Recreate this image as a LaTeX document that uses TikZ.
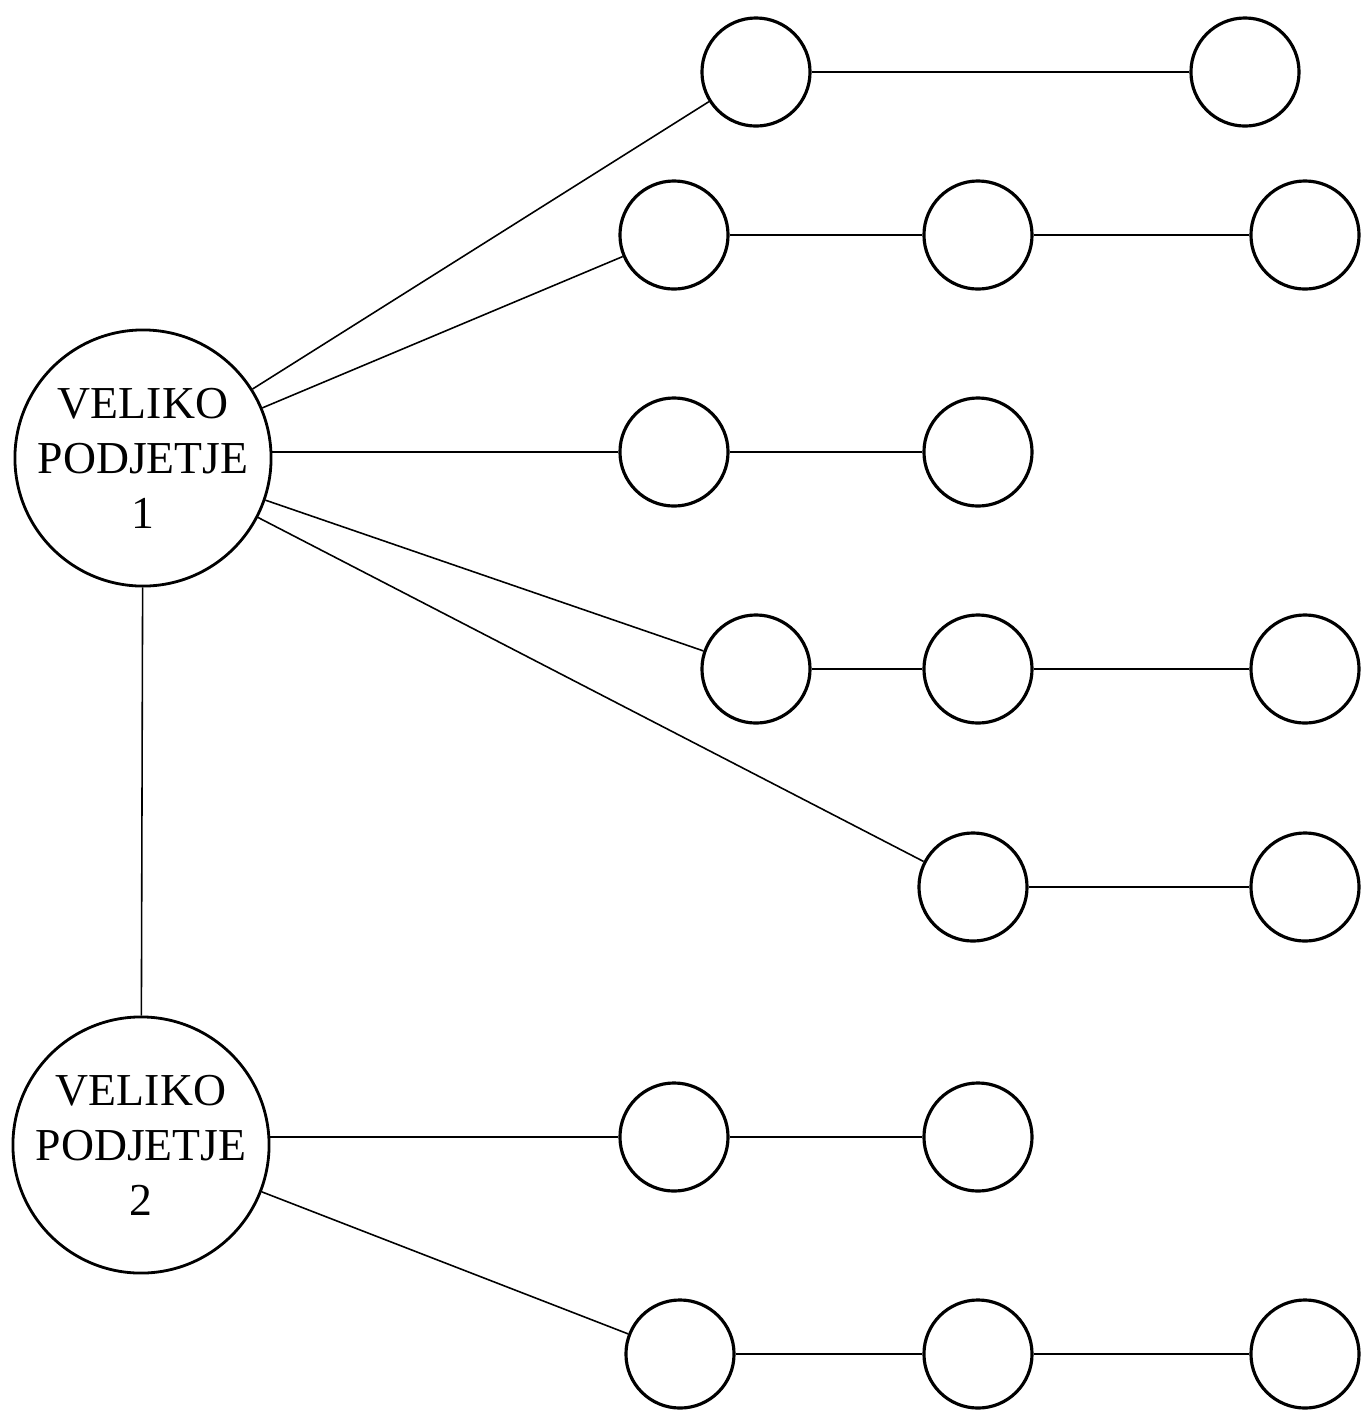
\documentclass[tikz,border=0pt]{standalone}
\usepackage{fontspec}
\setmainfont{Liberation Serif}
\begin{document}
\begin{tikzpicture}[x=0.01cm,y=-0.01cm,
  big/.style={circle,draw,line width=0.8pt,minimum size=2.56cm,inner sep=0pt,align=center,font=\fontsize{13}{15.6}\selectfont},
  small/.style={circle,draw,line width=0.9pt,minimum size=1.08cm,inner sep=0pt},
  link/.style={line width=0.45pt}]
\useasboundingbox (0,0) rectangle (1364,1411);
\node[big] (vp1) at (143,458) {VELIKO\\PODJETJE\\1};
\node[big] (vp2) at (141,1145) {VELIKO\\PODJETJE\\2};
% row 1
\node[small] (a1) at (756,72) {};
\node[small] (a2) at (1245,72) {};
% row 2
\node[small] (b1) at (674,235) {};
\node[small] (b2) at (978,235) {};
\node[small] (b3) at (1305,235) {};
% row 3
\node[small] (c1) at (674,452) {};
\node[small] (c2) at (978,452) {};
% row 4
\node[small] (d1) at (756,669) {};
\node[small] (d2) at (978,669) {};
\node[small] (d3) at (1305,669) {};
% row 5
\node[small] (e1) at (973,887) {};
\node[small] (e2) at (1305,887) {};
% row 6
\node[small] (f1) at (674,1137) {};
\node[small] (f2) at (978,1137) {};
% row 7
\node[small] (g1) at (680,1354) {};
\node[small] (g2) at (978,1354) {};
\node[small] (g3) at (1305,1354) {};
% connectors
\draw[link] (vp1) -- (a1);
\draw[link] (vp1) -- (b1);
\draw[link] (vp1.east |- c1) -- (c1);
\draw[link] (vp1) -- (d1);
\draw[link] (vp1) -- (e1);
\draw[link] (vp1) -- (vp2);
\draw[link] (vp2.east |- f1) -- (f1);
\draw[link] (vp2) -- (g1);
\draw[link] (a1) -- (a2);
\draw[link] (b1) -- (b2);
\draw[link] (b2) -- (b3);
\draw[link] (c1) -- (c2);
\draw[link] (d1) -- (d2);
\draw[link] (d2) -- (d3);
\draw[link] (e1) -- (e2);
\draw[link] (f1) -- (f2);
\draw[link] (g1) -- (g2);
\draw[link] (g2) -- (g3);
\end{tikzpicture}
\end{document}
